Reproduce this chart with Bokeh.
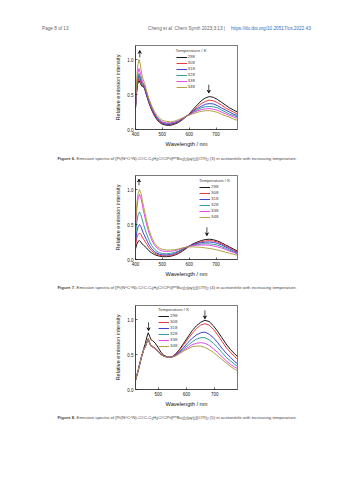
from bokeh.plotting import figure
from bokeh.models import Div, Arrow, VeeHead, FixedTicker, Range1d, CustomJSTickFormatter
from bokeh.layouts import column
from bokeh.embed import file_html
from bokeh.resources import INLINE

temps = ["298", "308", "318", "328", "338", "348"]
colors = ["#000000", "#e8262a", "#2b2bd0", "#1e9090", "#e335e3", "#a59830"]

# ---------------- Figure 6 data ----------------
wl6 = [400, 404, 408, 413, 418, 423, 428, 434, 440, 450, 460, 470, 480, 490, 500, 515, 530, 545,
       560, 575, 590, 600, 615, 630, 645, 660, 675, 690, 705, 720, 735, 750, 765, 780]
f6_298 = [0.30, 0.52, 0.65, 0.70, 0.66, 0.62, 0.62, 0.58, 0.50, 0.38, 0.28, 0.20, 0.14, 0.10, 0.075, 0.06, 0.06, 0.075,
          0.10, 0.14, 0.19, 0.22, 0.29, 0.35, 0.41, 0.45, 0.47, 0.46, 0.43, 0.39, 0.35, 0.31, 0.28, 0.25]
f6_308 = [0.31, 0.54, 0.68, 0.73, 0.69, 0.64, 0.63, 0.59, 0.51, 0.39, 0.29, 0.21, 0.15, 0.11, 0.085, 0.07, 0.07, 0.085,
          0.11, 0.145, 0.19, 0.22, 0.27, 0.32, 0.37, 0.40, 0.42, 0.41, 0.385, 0.35, 0.31, 0.28, 0.25, 0.22]
f6_318 = [0.32, 0.56, 0.71, 0.77, 0.72, 0.66, 0.64, 0.60, 0.52, 0.40, 0.30, 0.22, 0.16, 0.12, 0.09, 0.075, 0.075, 0.09,
          0.115, 0.15, 0.19, 0.215, 0.26, 0.30, 0.33, 0.36, 0.37, 0.365, 0.34, 0.31, 0.28, 0.25, 0.22, 0.20]
f6_328 = [0.33, 0.58, 0.74, 0.80, 0.75, 0.68, 0.65, 0.61, 0.53, 0.41, 0.31, 0.23, 0.17, 0.13, 0.10, 0.085, 0.085, 0.10,
          0.12, 0.155, 0.19, 0.21, 0.25, 0.28, 0.31, 0.325, 0.33, 0.325, 0.31, 0.28, 0.25, 0.22, 0.20, 0.18]
f6_338 = [0.34, 0.61, 0.80, 0.87, 0.81, 0.72, 0.67, 0.62, 0.54, 0.42, 0.32, 0.24, 0.18, 0.14, 0.11, 0.095, 0.095, 0.105,
          0.125, 0.16, 0.19, 0.21, 0.24, 0.265, 0.285, 0.295, 0.30, 0.29, 0.275, 0.25, 0.225, 0.20, 0.18, 0.16]
f6_348 = [0.36, 0.66, 0.90, 1.00, 0.93, 0.80, 0.72, 0.66, 0.57, 0.44, 0.34, 0.26, 0.20, 0.16, 0.13, 0.115, 0.11, 0.12,
          0.14, 0.165, 0.19, 0.205, 0.225, 0.245, 0.26, 0.268, 0.27, 0.26, 0.245, 0.22, 0.195, 0.175, 0.15, 0.13]

# ---------------- Figure 7 data ----------------
wl7 = [400, 405, 410, 415, 420, 425, 430, 440, 450, 460, 470, 480, 490, 500, 515, 530, 545, 560, 575, 590,
       600, 615, 630, 645, 660, 675, 690, 705, 720, 735, 750, 765, 780]
f7_298 = [0.15, 0.22, 0.26, 0.27, 0.25, 0.22, 0.205, 0.17, 0.125, 0.095, 0.072, 0.057, 0.047, 0.042, 0.04, 0.045, 0.06,
          0.085, 0.12, 0.16, 0.19, 0.225, 0.25, 0.27, 0.285, 0.29, 0.282, 0.265, 0.24, 0.21, 0.18, 0.15, 0.12]
f7_308 = [0.20, 0.31, 0.36, 0.38, 0.36, 0.32, 0.29, 0.23, 0.17, 0.125, 0.095, 0.073, 0.06, 0.053, 0.05, 0.055, 0.07,
          0.095, 0.13, 0.165, 0.19, 0.22, 0.24, 0.255, 0.265, 0.27, 0.265, 0.25, 0.225, 0.195, 0.17, 0.14, 0.11]
f7_318 = [0.25, 0.40, 0.47, 0.50, 0.47, 0.42, 0.37, 0.29, 0.21, 0.155, 0.115, 0.09, 0.075, 0.067, 0.065, 0.07, 0.085,
          0.11, 0.14, 0.17, 0.19, 0.215, 0.23, 0.24, 0.248, 0.25, 0.245, 0.23, 0.21, 0.18, 0.155, 0.125, 0.10]
f7_328 = [0.33, 0.54, 0.64, 0.68, 0.64, 0.57, 0.50, 0.38, 0.28, 0.20, 0.15, 0.115, 0.095, 0.085, 0.082, 0.088, 0.10,
          0.12, 0.15, 0.175, 0.19, 0.205, 0.215, 0.222, 0.225, 0.224, 0.218, 0.205, 0.185, 0.16, 0.135, 0.11, 0.09]
f7_338 = [0.45, 0.73, 0.88, 0.93, 0.88, 0.79, 0.69, 0.52, 0.38, 0.28, 0.21, 0.165, 0.135, 0.12, 0.115, 0.118, 0.125,
          0.14, 0.16, 0.18, 0.19, 0.20, 0.205, 0.207, 0.206, 0.203, 0.195, 0.18, 0.165, 0.145, 0.12, 0.10, 0.08]
f7_348 = [0.50, 0.80, 0.95, 1.00, 0.95, 0.86, 0.76, 0.58, 0.43, 0.32, 0.24, 0.19, 0.16, 0.145, 0.135, 0.135, 0.14,
          0.15, 0.165, 0.175, 0.18, 0.18, 0.178, 0.173, 0.166, 0.158, 0.148, 0.135, 0.12, 0.105, 0.09, 0.075, 0.06]

# ---------------- Figure 8 data ----------------
wl8 = [420, 430, 440, 450, 455, 460, 465, 470, 475, 480, 490, 500, 510, 520, 530, 540, 550, 560, 575, 590,
       605, 620, 635, 650, 665, 680, 695, 710, 725, 740, 755, 770, 780]
f8_298 = [0.13, 0.28, 0.45, 0.60, 0.66, 0.75, 0.81, 0.76, 0.71, 0.70, 0.66, 0.60, 0.53, 0.49, 0.47, 0.46, 0.47,
          0.50, 0.57, 0.66, 0.75, 0.84, 0.91, 0.96, 0.99, 0.97, 0.91, 0.83, 0.74, 0.65, 0.57, 0.51, 0.47]
f8_308 = [0.13, 0.28, 0.45, 0.58, 0.62, 0.68, 0.73, 0.67, 0.63, 0.62, 0.59, 0.55, 0.51, 0.48, 0.47, 0.46, 0.47,
          0.50, 0.56, 0.64, 0.72, 0.80, 0.87, 0.92, 0.94, 0.92, 0.86, 0.78, 0.69, 0.60, 0.53, 0.47, 0.43]
f8_318 = [0.13, 0.28, 0.45, 0.58, 0.61, 0.67, 0.72, 0.66, 0.62, 0.61, 0.58, 0.54, 0.50, 0.475, 0.465, 0.46, 0.465,
          0.49, 0.54, 0.60, 0.67, 0.73, 0.78, 0.81, 0.82, 0.79, 0.74, 0.67, 0.59, 0.52, 0.46, 0.40, 0.37]
f8_328 = [0.13, 0.28, 0.45, 0.58, 0.61, 0.67, 0.72, 0.66, 0.62, 0.61, 0.58, 0.54, 0.50, 0.475, 0.465, 0.46, 0.465,
          0.485, 0.53, 0.58, 0.63, 0.68, 0.72, 0.74, 0.74, 0.71, 0.66, 0.60, 0.53, 0.46, 0.41, 0.36, 0.33]
f8_338 = [0.13, 0.28, 0.45, 0.58, 0.61, 0.67, 0.72, 0.66, 0.62, 0.61, 0.58, 0.54, 0.50, 0.475, 0.465, 0.46, 0.465,
          0.48, 0.52, 0.56, 0.60, 0.64, 0.66, 0.67, 0.66, 0.63, 0.58, 0.53, 0.47, 0.41, 0.36, 0.32, 0.30]
f8_348 = [0.13, 0.28, 0.45, 0.58, 0.61, 0.67, 0.72, 0.66, 0.62, 0.61, 0.58, 0.54, 0.50, 0.475, 0.465, 0.46, 0.465,
          0.475, 0.51, 0.55, 0.58, 0.61, 0.62, 0.62, 0.60, 0.57, 0.53, 0.48, 0.43, 0.38, 0.33, 0.29, 0.27]

x_ticks_a = [400, 500, 600, 700]
x_ticks_b = [500, 600, 700]
y_ticks = [0.0, 0.5, 1.0]

FONT = "Liberation Sans"


def make_plot(wl, series, xr, xticks, legend_xy, arrows):
    p = figure(width=353, height=114, output_backend="svg", toolbar_location=None,
               x_range=Range1d(*xr), y_range=Range1d(0, 1.2),
               min_border_left=135, min_border_right=116, min_border_top=7, min_border_bottom=23)
    p.background_fill_color = "white"
    p.border_fill_color = "white"
    p.outline_line_color = "#222222"
    p.outline_line_width = 0.6
    p.grid.visible = False
    for s, c, t in zip(series, colors, temps):
        p.line(wl, s, line_color=c, line_width=0.9, legend_label=t)
    for ax, ticks in ((p.xaxis, xticks), (p.yaxis, y_ticks)):
        ax.ticker = FixedTicker(ticks=ticks)
        ax.major_tick_in = 2
        ax.major_tick_out = 0
        ax.minor_tick_line_color = None
        ax.axis_line_color = "#222222"
        ax.axis_line_width = 0.6
        ax.major_tick_line_width = 0.6
        ax.major_label_text_font = FONT
        ax.major_label_text_font_size = "4.5px"
        ax.major_label_text_color = "#222222"
        ax.axis_label_text_font = FONT
        ax.axis_label_text_font_size = "5.6px"
        ax.axis_label_text_font_style = "normal"
        ax.axis_label_text_color = "#111111"
        ax.major_label_standoff = 2
    p.yaxis.formatter = CustomJSTickFormatter(code="return tick.toFixed(1)")
    p.xaxis.axis_label = "Wavelength / nm"
    p.yaxis.axis_label = "Relative emission intensity"
    p.xaxis.axis_label_standoff = 2
    p.yaxis.axis_label_standoff = 3

    lg = p.legend[0]
    lg.title = "Temperature / K"
    lg.title_text_font = FONT
    lg.title_text_font_size = "4.4px"
    lg.title_text_font_style = "normal"
    lg.title_standoff = 1
    lg.label_text_font = FONT
    lg.label_text_font_size = "4.4px"
    lg.glyph_height = 6
    lg.glyph_width = 11
    lg.label_height = 6
    lg.label_standoff = 1
    lg.spacing = 0
    lg.padding = 0
    lg.margin = 0
    lg.border_line_alpha = 0
    lg.background_fill_alpha = 0
    lg.location = legend_xy
    for (x0, y0, x1, y1) in arrows:
        p.add_layout(Arrow(x_start=x0, y_start=y0, x_end=x1, y_end=y1, line_width=0.7,
                           end=VeeHead(size=3, line_width=0.7, fill_color="black")))
    return p


p6 = make_plot(wl6, [f6_298, f6_308, f6_318, f6_328, f6_338, f6_348], (400, 780), x_ticks_a,
               (40.5, 39.5), [(416, 1.03, 416, 1.13), (673, 0.64, 673, 0.52)])
p7 = make_plot(wl7, [f7_298, f7_308, f7_318, f7_328, f7_338, f7_348], (400, 780), x_ticks_a,
               (64, 39.5), [(413, 1.06, 413, 1.15), (666, 0.46, 666, 0.34)])
p8 = make_plot(wl8, [f8_298, f8_308, f8_318, f8_328, f8_338, f8_348], (420, 780), x_ticks_b,
               (23, 40.5), [(466, 0.96, 466, 0.84), (665, 1.13, 665, 1.01)])

BASE = "font-family:'Liberation Sans',Arial,sans-serif;position:relative;width:353px;"

header = Div(width=353, height=38, margin=0, text=(
    f'<div style="{BASE}height:38px;font-size:4.7px;color:#666;">'
    '<div style="position:absolute;left:42px;top:26.4px;white-space:nowrap;">Page 8 of 13</div>'
    '<div style="position:absolute;left:148px;top:26.4px;white-space:nowrap;">'
    'Cheng et al. Chem Synth 2023;3:13&nbsp;|</div>'
    '<div style="position:absolute;left:231px;top:26.4px;white-space:nowrap;color:#2a6fc0;">'
    'https://dx.doi.org/10.20517/cs.2022.43</div></div>'))


def caption(num, cpd, top, h=16):
    sub = '<sub style="font-size:3px;vertical-align:-0.6px">'
    sup = '<sup style="font-size:3px;vertical-align:1.3px">'
    txt = (f'<b>Figure {num}.</b> Emission spectra of [Pt(N^C^N)-C&#8801;C-C{sub}6</sub>H{sub}4</sub>'
           f'C&#8801;CPt(P{sup}n</sup>Bu{sub}3</sub>){sub}2</sub>(py){sub}2</sub>](OTf){sub}2</sub> '
           f'({cpd}) in acetonitrile with increasing temperature.')
    return Div(width=353, height=h, margin=0, text=(
        f'<div style="{BASE}height:{h}px;font-size:4.3px;color:#444;">'
        f'<div style="position:absolute;left:57.5px;top:{top}px;white-space:nowrap;line-height:4.4px;">{txt}</div></div>'))


cap6 = caption(6, 3, 4.4)
cap7 = caption(7, 4, 3.0)
cap8 = caption(8, 5, 3.4)
tail = Div(width=353, height=52, margin=0, text="")

layout = column(header, p6, cap6, p7, cap7, p8, cap8, tail, spacing=0)
open("out.html", "w").write(file_html(layout, INLINE))
